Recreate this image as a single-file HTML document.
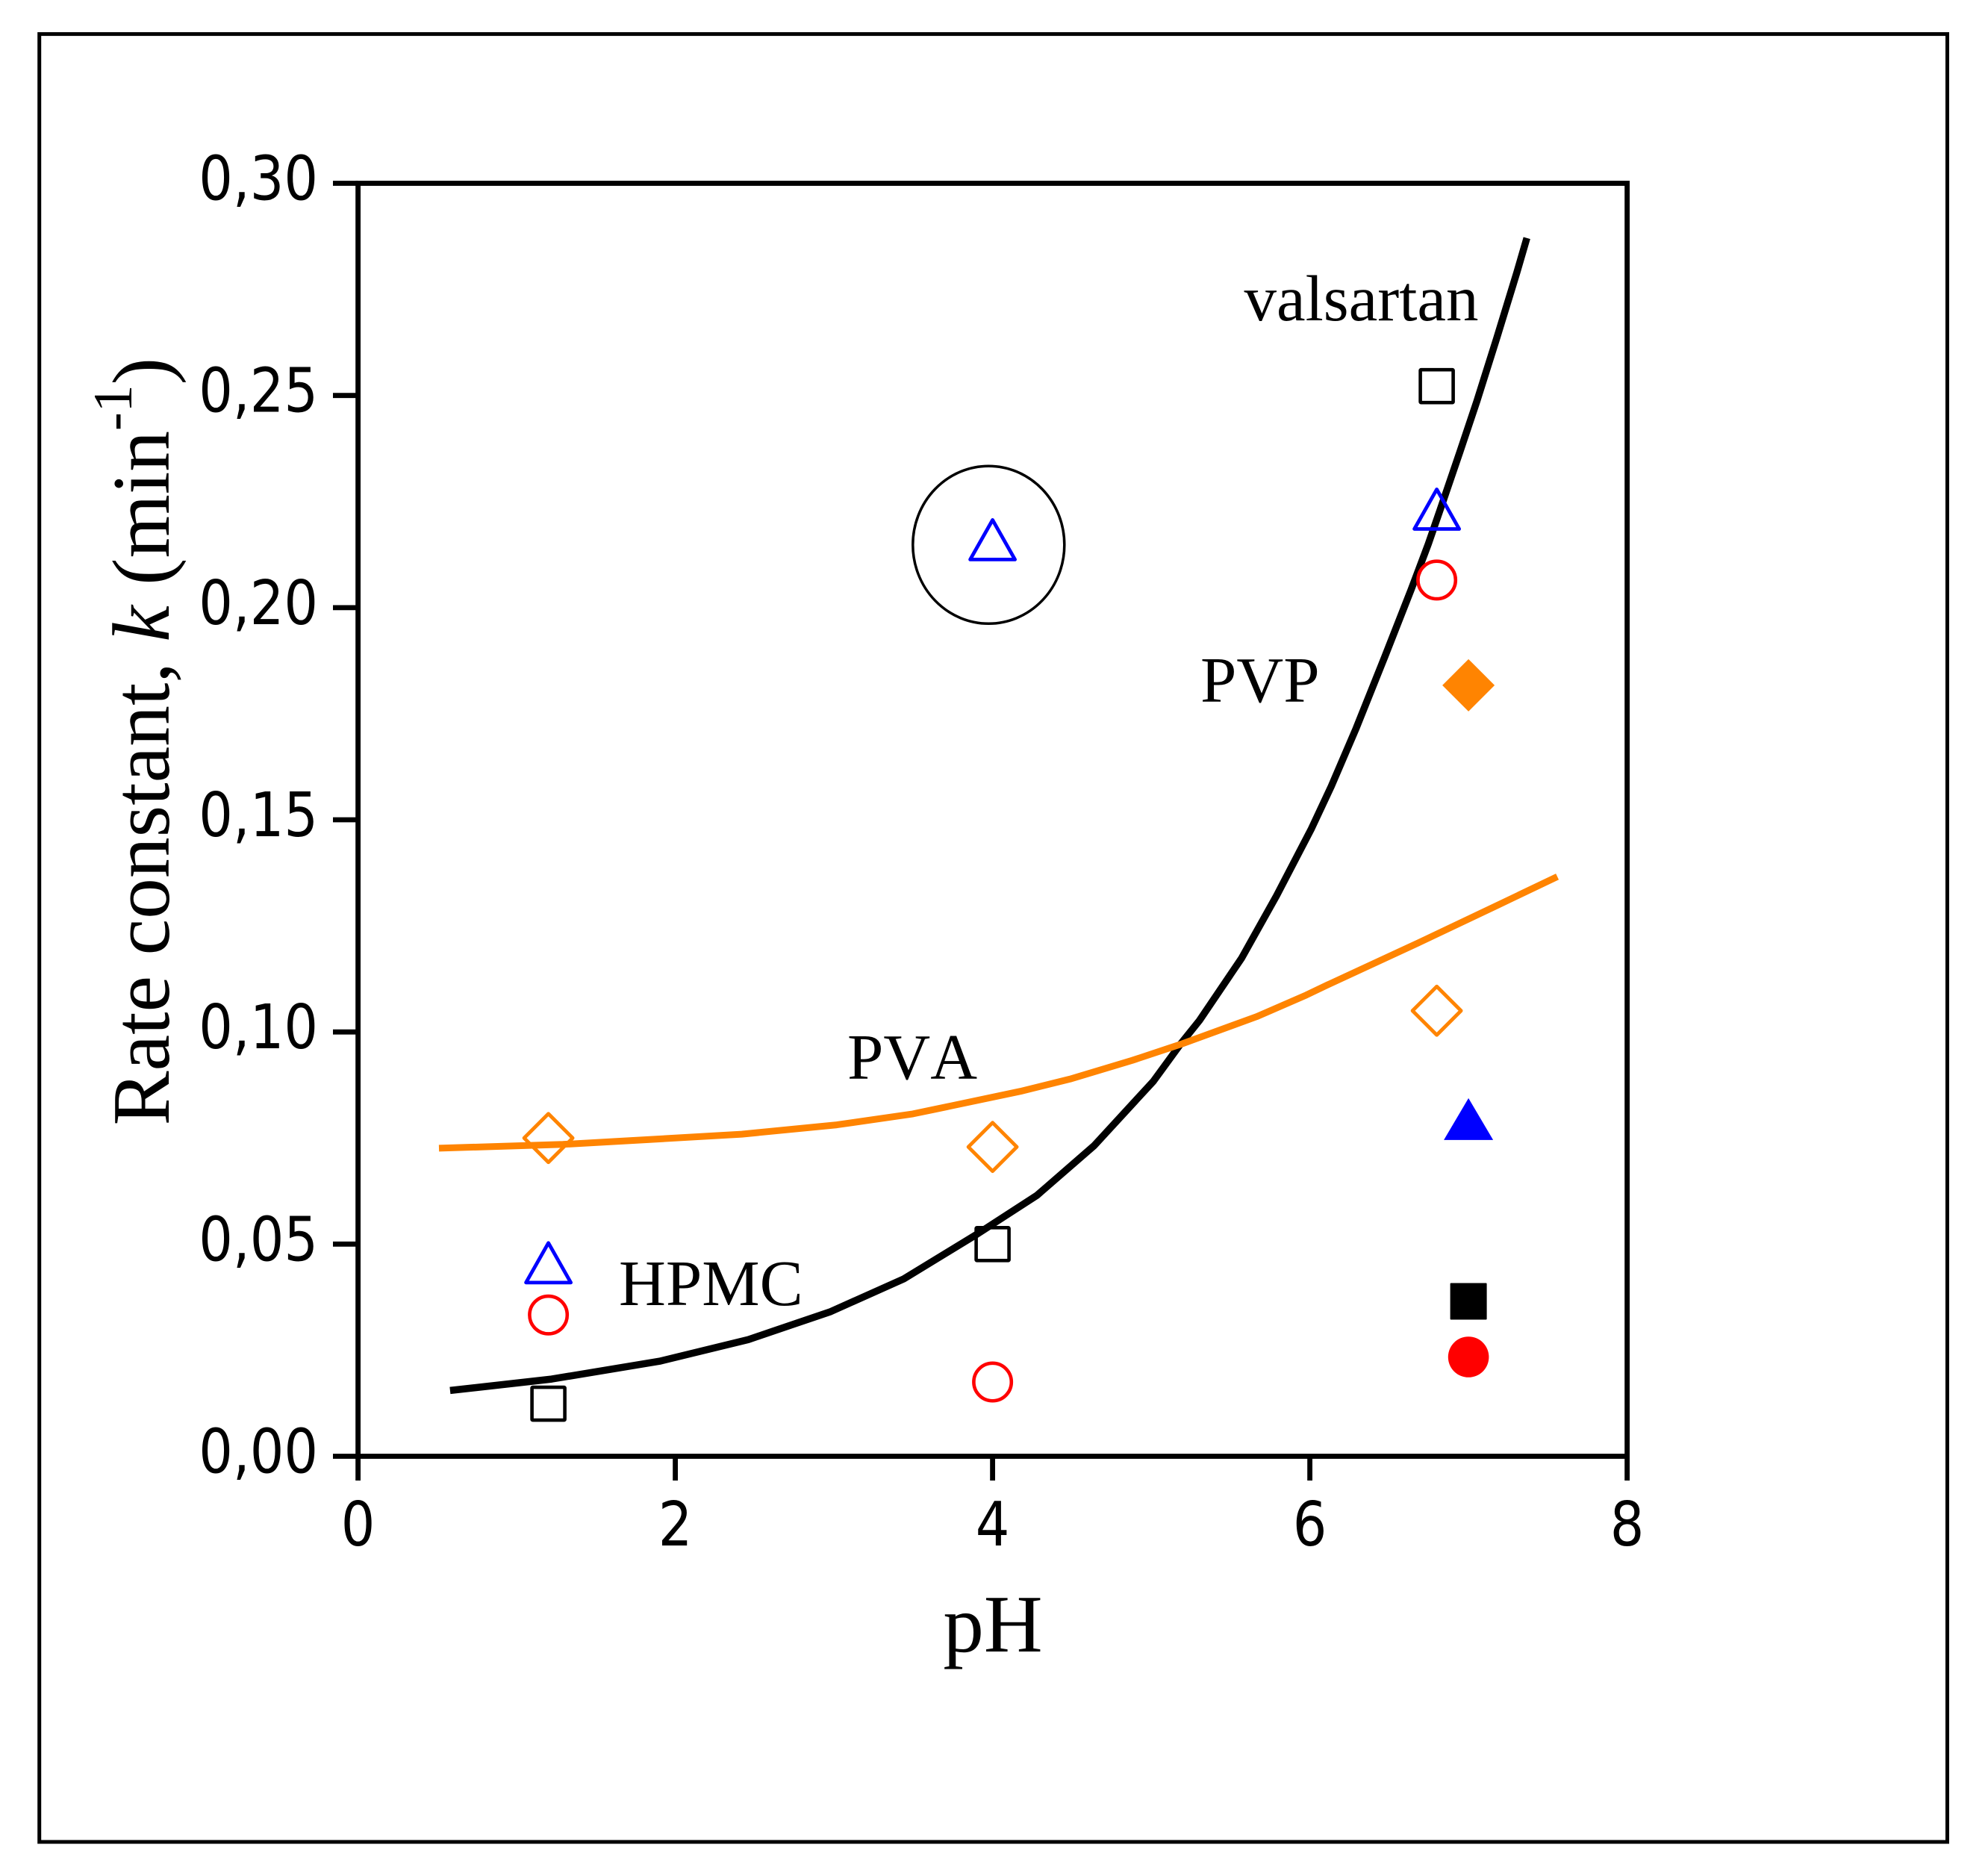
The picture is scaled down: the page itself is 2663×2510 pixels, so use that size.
<!DOCTYPE html>
<html lang="en">
<head>
<meta charset="utf-8">
<title>Rate constant vs pH</title>
<style>
  html, body { margin: 0; padding: 0; background: #fff; width: 2663px; height: 2510px; overflow: hidden; }
  svg { display: block; }
  .serif { font-family: "Liberation Serif", serif; fill: #000; font-kerning: none; }
  .tick { font-family: "DejaVu Sans", sans-serif; font-size: 82px; fill: #000; }
</style>
</head>
<body>
<svg id="chart" xmlns="http://www.w3.org/2000/svg" width="2663" height="2510" viewBox="0 0 2663 2510">
  <rect x="0" y="0" width="2663" height="2510" fill="#fff"/>
  <rect x="52.7" y="45.6" width="2555.8" height="2421.4" fill="none" stroke="#000" stroke-width="5"/>
  <g id="axes"></g>
  <g id="curves"></g>
  <g id="markers"></g>
  <text class="serif" font-size="109.5" transform="translate(226,1507.5) rotate(-90)">Rate constant, <tspan font-style="italic">k</tspan> (min<tspan font-size="74" dy="-50">-1</tspan><tspan dy="50">)</tspan></text>
  <text class="serif" font-size="109" x="1330" y="2212" text-anchor="middle">pH</text>
  <text class="serif" font-size="87" x="1666.5" y="429">valsartan</text>
  <text class="serif" font-size="87" x="1608" y="940">PVP</text>
  <text class="serif" font-size="87" x="1135" y="1445">PVA</text>
  <text class="serif" font-size="87" x="829" y="1748">HPMC</text>
</svg>
<script>
const xTicks = [0, 2, 4, 6, 8];
const yTicks = [0, 0.05, 0.10, 0.15, 0.20, 0.25, 0.30];
const yTickLabels = ['0,00', '0,05', '0,10', '0,15', '0,20', '0,25', '0,30'];

const pvpCurveX = [0.58, 1.22, 1.90, 2.46, 2.98, 3.44, 3.90, 4.28, 4.64, 5.014, 5.186, 5.304, 5.570, 5.790, 6.010, 6.135, 6.292, 6.472, 6.639, 6.747, 6.819, 6.945, 7.053, 7.178, 7.305, 7.368];
const pvpCurveY = [0.0155, 0.0182, 0.0224, 0.0275, 0.0341, 0.0418, 0.0523, 0.0615, 0.0732, 0.0884, 0.0972, 0.1027, 0.1174, 0.1321, 0.1479, 0.1579, 0.1716, 0.1884, 0.2043, 0.2150, 0.2228, 0.2366, 0.2487, 0.2635, 0.2790, 0.2871];
const pvaCurveX = [0.51, 1.291, 1.818, 2.419, 3.018, 3.498, 3.627, 4.175, 4.488, 4.881, 5.194, 5.664, 5.978, 6.112, 6.684, 7.18, 7.56];
const pvaCurveY = [0.0726, 0.0735, 0.0746, 0.0759, 0.0781, 0.0807, 0.0817, 0.0860, 0.0889, 0.0933, 0.0972, 0.1036, 0.1087, 0.1111, 0.1210, 0.1298, 0.1366];

const openX = [1.2, 4, 6.8];
const squareOpenY = [0.0124, 0.05, 0.2522];
const triangleOpenY = [0.0456, 0.2160, 0.2232];
const circleOpenY = [0.0333, 0.0175, 0.2065];
const diamondOpenY = [0.0750, 0.0729, 0.105];

const filledX = 7;
const diamondFilledY = 0.1817;
const triangleFilledY = 0.0793;
const squareFilledY = 0.0365;
const circleFilledY = 0.0234;

const highlightCircleX = 3.975;
const highlightCircleY = 0.2148;

const BLACK = '#000';
const ORANGE = '#ff8401';
const BLUE = '#0000ff';
const RED = '#ff0000';
const SVGNS = 'http://www.w3.org/2000/svg';

function sx(v) { return 479.6 + v * 212.5; }
function sy(v) { return 1950.5 - v * 5683.3; }

function make(parent, tag, attrs) {
  const el = document.createElementNS(SVGNS, tag);
  Object.keys(attrs).forEach(function (k) { el.setAttribute(k, attrs[k]); });
  parent.appendChild(el);
  return el;
}

const axes = document.getElementById('axes');
const curves = document.getElementById('curves');
const markers = document.getElementById('markers');

const plotBox = make(axes, 'rect', { x: sx(0), y: sy(0.30), width: sx(8) - sx(0), height: sy(0) - sy(0.30), fill: 'none', stroke: BLACK, 'stroke-width': 6.8 });



xTicks.forEach(function (t) {
  const line = make(axes, 'line', { x1: sx(t), x2: sx(t), y1: sy(0), y2: 1983, stroke: BLACK, 'stroke-width': 6.8 });
  
  
  const label = make(axes, 'text', { class: 'tick', 'text-anchor': 'middle', transform: 'translate(' + sx(t) + ',2070) scale(0.875,1)' });
  
  
  label.textContent = String(t);
});

yTicks.forEach(function (t, i) {
  const line = make(axes, 'line', { x1: 446, x2: sx(0), y1: sy(t), y2: sy(t), stroke: BLACK, 'stroke-width': 6.8 });
  
  
  const label = make(axes, 'text', { class: 'tick', 'text-anchor': 'end', transform: 'translate(426,' + (sy(t) + 22) + ') scale(0.875,1)' });
  
  
  label.textContent = yTickLabels[i];
});

function curvePoints(xs, ys) {
  return xs.map(function (x, i) { return sx(x).toFixed(1) + ',' + sy(ys[i]).toFixed(1); }).join(' ');
}

const pvpLine = make(curves, 'polyline', { points: curvePoints(pvpCurveX, pvpCurveY), fill: 'none', stroke: BLACK, 'stroke-width': 9.5, 'stroke-linejoin': 'round' });



const pvaLine = make(curves, 'polyline', { points: curvePoints(pvaCurveX, pvaCurveY), fill: 'none', stroke: ORANGE, 'stroke-width': 9, 'stroke-linejoin': 'round' });



function square(cx, cy, filled, color) {
  const s = filled ? 49 : 44;
  return make(markers, 'rect', { x: cx - s / 2, y: cy - s / 2, width: s, height: s, rx: 1, fill: filled ? color : 'none', stroke: filled ? 'none' : color, 'stroke-width': 4.6 });
}
function circle(cx, cy, filled, color) {
  return make(markers, 'circle', { cx: cx, cy: cy, r: filled ? 27.3 : 25.2, fill: filled ? color : 'none', stroke: filled ? 'none' : color, 'stroke-width': 4.6 });
}
function triangle(cx, cy, filled, color) {
  const w = filled ? 33 : 30;
  const up = filled ? 29 : 26.5;
  const down = filled ? 27 : 26.5;
  const pts = cx + ',' + (cy - up) + ' ' + (cx + w) + ',' + (cy + down) + ' ' + (cx - w) + ',' + (cy + down);
  return make(markers, 'polygon', { points: pts, fill: filled ? color : 'none', stroke: filled ? 'none' : color, 'stroke-width': 4.8, 'stroke-linejoin': 'round' });
}
function diamond(cx, cy, filled, color) {
  const s = filled ? 35 : 32.5;
  const pts = cx + ',' + (cy - s) + ' ' + (cx + s) + ',' + cy + ' ' + cx + ',' + (cy + s) + ' ' + (cx - s) + ',' + cy;
  return make(markers, 'polygon', { points: pts, fill: filled ? color : 'none', stroke: filled ? 'none' : color, 'stroke-width': 4.8, 'stroke-linejoin': 'round' });
}

openX.forEach(function (x, i) {
  const sq = square(sx(x), sy(squareOpenY[i]), false, BLACK);
  
  
  const tr = triangle(sx(x), sy(triangleOpenY[i]), false, BLUE);
  
  
  const ci = circle(sx(x), sy(circleOpenY[i]), false, RED);
  
  
  const di = diamond(sx(x), sy(diamondOpenY[i]), false, ORANGE);
  
  
});

const fDiamond = diamond(sx(filledX), sy(diamondFilledY), true, ORANGE);


const fTriangle = triangle(sx(filledX), sy(triangleFilledY), true, BLUE);


const fSquare = square(sx(filledX), sy(squareFilledY), true, BLACK);


const fCircle = circle(sx(filledX), sy(circleFilledY), true, RED);



const highlight = make(markers, 'ellipse', { cx: sx(highlightCircleX), cy: sy(highlightCircleY), rx: 101.5, ry: 105.5, fill: 'none', stroke: BLACK, 'stroke-width': 3.5 });


</script>
</body>
</html>
